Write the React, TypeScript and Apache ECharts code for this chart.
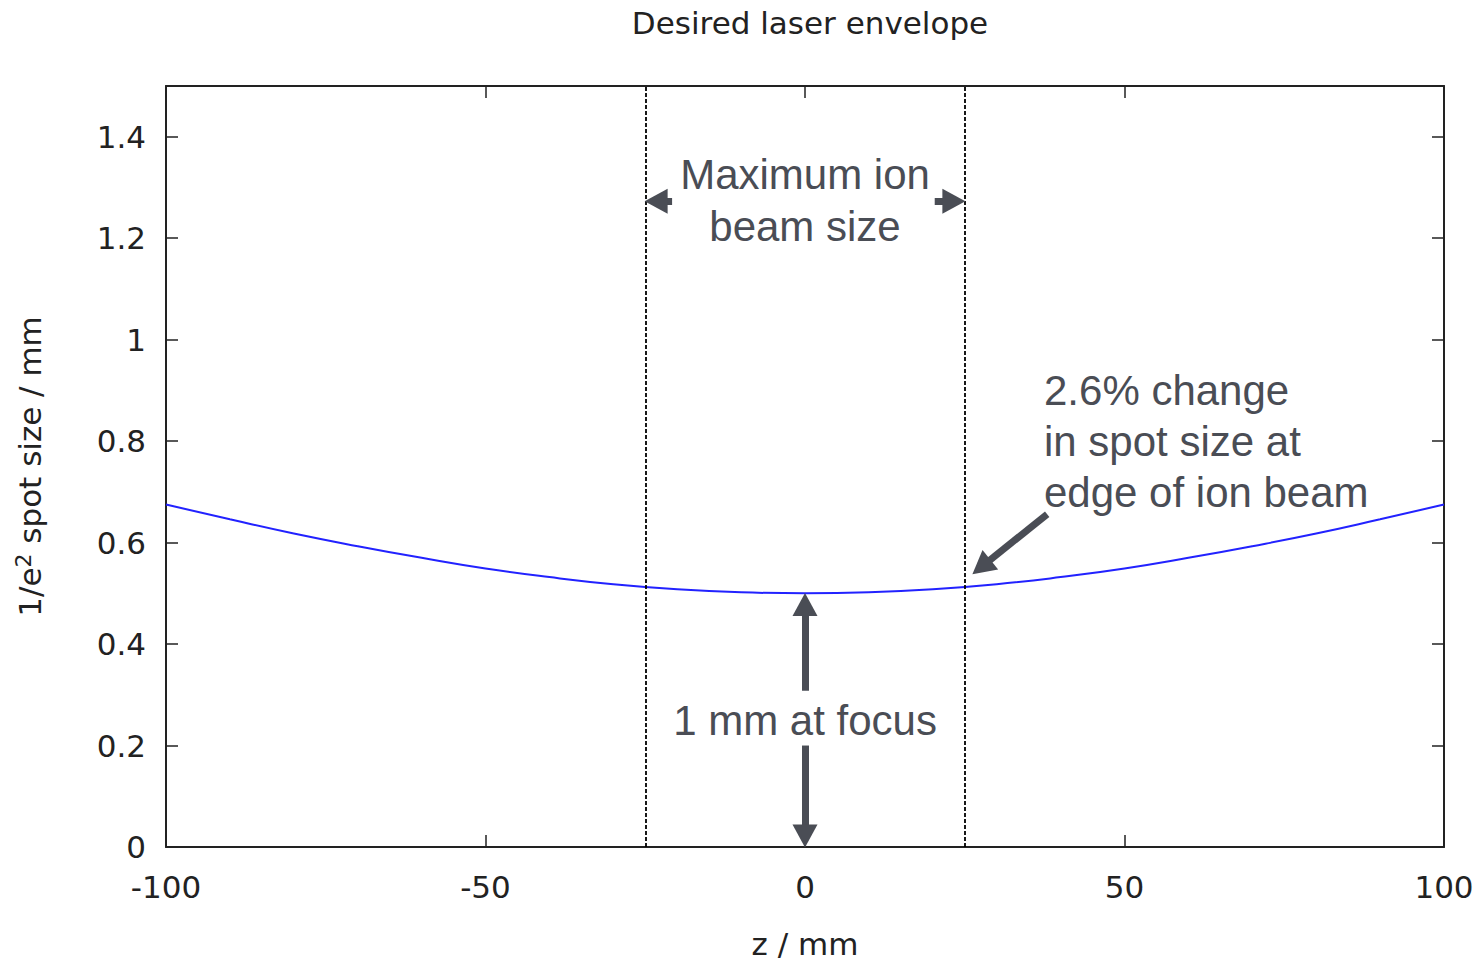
import React, { useEffect, useRef } from "react";
import * as echarts from "echarts";

const zValues = [-100, -90, -80, -70, -60, -50, -40, -30, -20, -10, 0, 10, 20, 30, 40, 50, 60, 70, 80, 90, 100];
const spotSize = [0.675, 0.646, 0.618, 0.593, 0.57, 0.549, 0.532, 0.518, 0.508, 0.502, 0.5, 0.502, 0.508, 0.518, 0.532, 0.549, 0.57, 0.593, 0.618, 0.646, 0.675];
const beamEdges = [-25, 25];
const xTicks = [-100, -50, 0, 50, 100];
const yTickStep = 0.2;

const ANN = "#4a4d55";
const ANN_FONT = "'Liberation Sans', Arial, sans-serif";
const TICK_FONT = "'DejaVu Sans', sans-serif";
const AX = "#222";

export default function App() {
  const ref = useRef<HTMLDivElement>(null);
  useEffect(() => {
    if (!ref.current) return;
    const chart = echarts.init(ref.current, undefined, { renderer: "svg" });
    const arrowLine = (from: number[], to: number[]) => [
      { coord: from, symbol: "none" },
      { coord: to, symbol: "triangle" },
    ];
    const axisLine = { show: true, onZero: false, lineStyle: { color: AX, width: 2 } };
    const axisTick = { show: true, inside: true, length: 12, lineStyle: { color: AX, width: 1.5 } };
    const annText = (text: string, x: number, y: number, align = "center") => ({
      type: "text",
      x,
      y,
      style: { text, font: `42px ${ANN_FONT}`, fill: ANN, align, verticalAlign: "middle" },
    });
    const option: any = {
      animation: false,
      backgroundColor: "#ffffff",
      title: {
        text: "Desired laser envelope",
        left: 805,
        top: 2,
        textAlign: "center",
        textStyle: { fontFamily: TICK_FONT, fontSize: 31, fontWeight: "normal", color: AX },
      },
      grid: { left: 166, right: 40, top: 86, bottom: 113 },
      xAxis: [
        {
          type: "value",
          min: -100,
          max: 100,
          interval: 50,
          name: "z / mm",
          nameLocation: "middle",
          nameGap: 81,
          nameTextStyle: { fontFamily: TICK_FONT, fontSize: 31, color: AX },
          axisLine,
          axisTick,
          axisLabel: {
            fontFamily: TICK_FONT,
            fontSize: 31,
            color: AX,
            margin: 24,
            formatter: (v: number) => (xTicks.includes(v) ? String(v) : ""),
          },
          splitLine: { show: false },
        },
        {
          type: "value",
          position: "top",
          min: -100,
          max: 100,
          interval: 50,
          axisLine,
          axisTick,
          axisLabel: { show: false },
          splitLine: { show: false },
        },
      ],
      yAxis: [
        {
          type: "value",
          min: 0,
          max: 1.5,
          interval: yTickStep,
          name: "1/e{sup|2} spot size / mm",
          nameLocation: "middle",
          nameGap: 118,
          nameTextStyle: {
            fontFamily: TICK_FONT,
            fontSize: 31,
            color: AX,
            rich: {
              sup: { fontFamily: TICK_FONT, fontSize: 22, color: AX, padding: [0, 0, 14, 0] },
            },
          },
          axisLine,
          axisTick,
          axisLabel: { fontFamily: TICK_FONT, fontSize: 31, color: AX, margin: 20, showMaxLabel: false },
          splitLine: { show: false },
        },
        {
          type: "value",
          position: "right",
          min: 0,
          max: 1.5,
          interval: yTickStep,
          axisLine,
          axisTick,
          axisLabel: { show: false },
          splitLine: { show: false },
        },
      ],
      series: [
        {
          type: "line",
          data: zValues.map((z, i) => [z, spotSize[i]]),
          smooth: true,
          showSymbol: false,
          lineStyle: { color: "#2222ff", width: 2 },
          z: 3,
          markLine: {
            silent: true,
            symbol: "none",
            label: { show: false },
            lineStyle: { color: "#000", width: 1.8, type: [4, 2] },
            data: beamEdges.map((x) => ({ xAxis: x })),
          },
        },
        {
          type: "line",
          data: [],
          markLine: {
            silent: true,
            symbolSize: [25, 23],
            label: { show: false },
            lineStyle: { color: ANN, width: 7, type: "solid" },
            data: [
              arrowLine([-20.8, 1.273], [-23.3, 1.273]),
              arrowLine([20.3, 1.273], [23.3, 1.273]),
              arrowLine([0, 0.308], [0, 0.478]),
              arrowLine([0, 0.2], [0, 0.0215]),
              arrowLine([37.9, 0.656], [27.6, 0.552]),
            ],
          },
        },
      ],
      graphic: [
        annText("Maximum ion", 805, 174),
        annText("beam size", 805, 226),
        annText("1 mm at focus", 805, 720),
        annText("2.6% change", 1044, 390, "left"),
        annText("in spot size at", 1044, 441, "left"),
        annText("edge of ion beam", 1044, 492, "left"),
      ],
    };
    chart.setOption(option);
    return () => chart.dispose();
  }, []);
  return (
    <div
      ref={ref}
      style={{ position: "fixed", left: 0, top: 0, width: 1484, height: 964, background: "#fff" }}
    />
  );
}
